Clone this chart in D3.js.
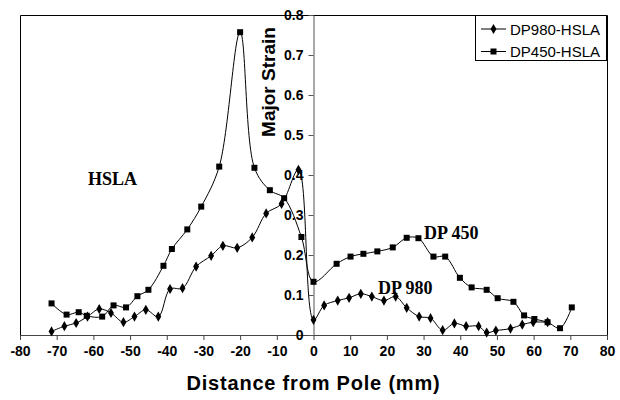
<!DOCTYPE html>
<html>
<head>
<meta charset="utf-8">
<script src="https://cdn.jsdelivr.net/npm/d3@7"></script>
<style>
  html, body { margin: 0; padding: 0; background: #fff; }
  svg { display: block; }
</style>
</head>
<body>
<svg id="chart" width="620" height="400"></svg>
<script>
// Major strain measured along the dome, by distance from the pole
const dp980X = [-71.4,-67.9,-64.7,-61.6,-58.4,-55.2,-51.8,-48.8,-45.7,-42.3,-39.1,-35.7,-32.0,-27.9,-24.7,-20.8,-16.7,-12.9,-8.7,-4.1,0,2.9,6.6,9.7,12.9,15.9,19.2,22.4,25.4,28.8,31.9,35.2,38.4,41.6,45.0,47.2,49.7,53.7,56.9,59.9,63.8];
const dp980Strain = [0.009,0.022,0.030,0.046,0.065,0.055,0.032,0.046,0.063,0.046,0.115,0.117,0.171,0.198,0.223,0.218,0.244,0.304,0.328,0.413,0.038,0.074,0.086,0.093,0.103,0.096,0.086,0.096,0.068,0.046,0.042,0.012,0.029,0.022,0.022,0.006,0.011,0.016,0.026,0.032,0.032];

const dp450X = [-71.4,-67.3,-64.0,-61.8,-57.6,-54.5,-51.1,-48.0,-45.0,-40.9,-38.6,-34.4,-30.6,-25.7,-20.0,-16.1,-11.9,-8.0,-3.3,0,6.3,10.1,13.6,17.4,21.6,25.4,28.6,32.7,35.9,39.9,43.1,47.2,50.2,54.5,57.4,60.2,63.8,67.2,70.4];
const dp450Strain = [0.079,0.051,0.057,0.048,0.046,0.074,0.069,0.097,0.113,0.173,0.215,0.264,0.321,0.421,0.757,0.418,0.362,0.342,0.245,0.133,0.178,0.196,0.203,0.209,0.219,0.243,0.242,0.196,0.196,0.143,0.119,0.113,0.092,0.083,0.049,0.040,0.032,0.017,0.069];

const xTicks = [-80,-70,-60,-50,-40,-30,-20,-10,0,10,20,30,40,50,60,70,80];
const yTicks = [0,0.1,0.2,0.3,0.4,0.5,0.6,0.7,0.8];
const seriesNames = ["DP980-HSLA","DP450-HSLA"];

const svg = d3.select("#chart");
const plotLeft = 20, plotRight = 607, plotTop = 15, plotBottom = 335;

const x = d3.scaleLinear().domain([-80, 80]).range([plotLeft, plotRight]);
const y = d3.scaleLinear().domain([0, 0.8]).range([plotBottom, plotTop]);

const sans = "Arial, 'Liberation Sans', sans-serif";
const serif = "'Times New Roman', 'Liberation Serif', serif";

// plot frame (top, left, right)
svg.append("path")
  .attr("d", `M${plotLeft + 0.5},${plotBottom}V${plotTop + 0.5}H${plotRight + 0.5}V${plotBottom}`)
  .attr("fill", "none").attr("stroke", "#000").attr("stroke-width", 1);

// x axis along the bottom (plain hyphen for negatives)
const xAxis = svg.append("g")
  .attr("transform", `translate(0,${plotBottom})`)
  .call(d3.axisBottom(x).tickValues(xTicks).tickSize(5).tickSizeOuter(0).tickFormat(d => String(d)));
xAxis.select(".domain").attr("stroke", "#444");
xAxis.selectAll(".tick line").attr("stroke", "#444");
xAxis.selectAll("text")
  .attr("font-family", sans).attr("font-weight", "bold").attr("font-size", 14)
  .attr("fill", "#000").attr("dy", "0.95em");

// y axis through the pole (x = 0)
const yAxis = svg.append("g")
  .attr("transform", `translate(${x(0)},0)`)
  .call(d3.axisLeft(y).tickValues(yTicks).tickSize(5).tickSizeOuter(0)
    .tickFormat(d => d === 0 ? "0" : d3.format(".1f")(d)));
yAxis.select(".domain").attr("stroke", "#555");
yAxis.selectAll(".tick line").attr("stroke", "#555");
yAxis.selectAll("text")
  .attr("font-family", sans).attr("font-weight", "bold").attr("font-size", 14)
  .attr("fill", "#000").attr("x", -10);

// axis titles
svg.append("text")
  .attr("x", x(0)).attr("y", 390)
  .attr("text-anchor", "middle")
  .attr("font-family", sans).attr("font-weight", "bold").attr("font-size", 20)
  .attr("letter-spacing", 0.8)
  .text("Distance from Pole (mm)");

svg.append("text")
  .attr("transform", "translate(275,82) rotate(-90)")
  .attr("text-anchor", "middle")
  .attr("font-family", sans).attr("font-weight", "bold").attr("font-size", 19)
  .text("Major Strain");

// series
const line = d3.line()
  .x(d => x(d[0])).y(d => y(d[1]))
  .curve(d3.curveCatmullRom.alpha(0.5));

const dp980 = dp980X.map((v, i) => [v, dp980Strain[i]]);
const dp450 = dp450X.map((v, i) => [v, dp450Strain[i]]);

const diamond = d3.symbol().type(d3.symbolDiamond).size(30);

function drawSeries(data, markerFn) {
  svg.append("path").datum(data)
    .attr("d", line).attr("fill", "none")
    .attr("stroke", "#000").attr("stroke-width", 1);
  const g = svg.append("g");
  data.forEach(d => markerFn(g, x(d[0]), y(d[1])));
}

function drawDiamond(g, cx, cy) {
  g.append("path").attr("d", diamond)
    .attr("transform", `translate(${cx},${cy})`).attr("fill", "#000");
}
function drawSquare(g, cx, cy) {
  g.append("rect").attr("x", cx - 3).attr("y", cy - 3)
    .attr("width", 6).attr("height", 6).attr("fill", "#000");
}

drawSeries(dp450, drawSquare);
drawSeries(dp980, drawDiamond);

// annotations
const notes = [
  { text: "HSLA", x: 88, y: 185 },
  { text: "DP 450", x: 424, y: 239 },
  { text: "DP 980", x: 378, y: 294 }
];
notes.forEach(n => {
  svg.append("text").attr("x", n.x).attr("y", n.y)
    .attr("font-family", serif).attr("font-weight", "bold").attr("font-size", 18)
    .text(n.text);
});

// legend
const legend = svg.append("g");
legend.append("rect")
  .attr("x", 475.5).attr("y", 15.5).attr("width", 131).attr("height", 45)
  .attr("fill", "#fff").attr("stroke", "#000").attr("stroke-width", 1);
const markers = [drawDiamond, drawSquare];
seriesNames.forEach((name, i) => {
  const ly = 29 + i * 22.5;
  legend.append("line")
    .attr("x1", 481).attr("x2", 506).attr("y1", ly).attr("y2", ly)
    .attr("stroke", "#000").attr("stroke-width", 1);
  markers[i](legend, 493.5, ly);
  legend.append("text")
    .attr("x", 510).attr("y", ly + 5.5)
    .attr("font-family", sans).attr("font-size", 15)
    .text(name);
});
</script>
</body>
</html>
